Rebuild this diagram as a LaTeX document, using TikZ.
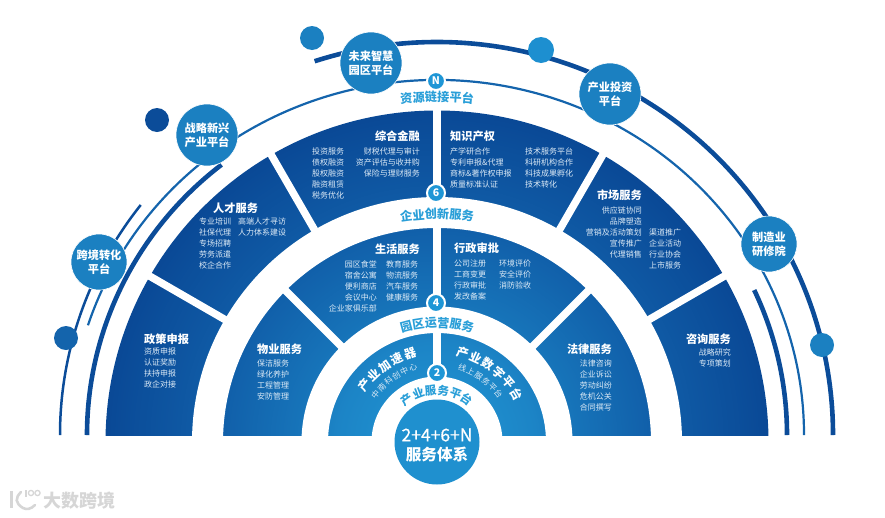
\documentclass[tikz,border=0pt]{standalone}
\usepackage{fontspec}
\setmainfont{Noto Sans CJK SC}
\definecolor{darkarc}{HTML}{0B4C99}
\definecolor{midarc}{HTML}{1464AC}
\definecolor{bub}{HTML}{1B80C1}
\definecolor{cyanlab}{HTML}{2A9FD8}
\definecolor{pale}{HTML}{DCEAF6}
\definecolor{badge}{HTML}{1E96D6}
\definecolor{wm}{HTML}{D6D6D6}
\definecolor{c0}{HTML}{1F90CF}
\definecolor{c1}{HTML}{1C84C6}
\definecolor{c2}{HTML}{1775BA}
\definecolor{c3}{HTML}{1160AA}
\definecolor{c4}{HTML}{0A4996}
\tikzset{
 x=1pt,y=-1pt,
 platform/.style={circle,fill=bub,draw=white,line width=.6pt,minimum size=#1,inner sep=0,align=center,text=white,font=\fontsize{11.2}{14}\selectfont\bfseries},
 dot/.style={circle,fill=#1,minimum size=24,inner sep=0},
 svctitle/.style={inner sep=0,text=white,font=\fontsize{11.2}{13}\selectfont\bfseries},
 detail/.style={inner sep=0,text=pale,font=\fontsize{8}{11}\selectfont},
 detl/.style={detail,align=left,anchor=north west},
 detr/.style={detail,align=right,anchor=north east},
 badgenode/.style={circle,fill=badge,draw=white,line width=2pt,minimum size=18,inner sep=0,text=white,font=\fontsize{10.5}{12}\selectfont\bfseries},
 cyantxt/.style={inner sep=0,text=cyanlab,font=\fontsize{#1}{12}\selectfont\bfseries},
 bandtitle/.style={inner sep=0,text=white,font=\fontsize{12}{12}\selectfont\bfseries},
 bandsub/.style={inner sep=0,text=pale,font=\fontsize{8}{8}\selectfont},
 gap/.style={white,line width=7.5pt},
 thickarc/.style={darkarc,line width=4.6pt},
 thinarc/.style={midarc,line width=2.2pt},
}
\newcommand{\arctext}[6]{\foreach \ch [count=\i from 0] in {#6} {%
  \pgfmathsetmacro\ang{#3+\i*#4}%
  \node[#5,rotate=-\ang] (#1-\i) at ({437+#2*sin(\ang)},{442-#2*cos(\ang)}) {\ch};}}
\newcommand{\spoke}[3]{\draw[gap] ({437+#2*cos(#1)},{442-#2*sin(#1)}) -- ({437+#3*cos(#1)},{442-#3*sin(#1)});}
\newcommand{\earc}[5]{\draw[#1] (437,435) ++(#4:#2 and #3) arc[start angle=#4,end angle=#5,x radius=#2,y radius=#3];}
\begin{document}
\begin{tikzpicture}
\useasboundingbox (0,0) rectangle (885,517);
% shaded half disc
\begin{scope}
 \clip (0,0) rectangle (885,435);
 \foreach \ra/\rb/\ca/\cb in {331.5/214/c4/c3,214/135/c3/c2,135/100/c2/c1,100/42/c1/c0}{
  \foreach \t in {0,2,...,98}{
   \pgfmathsetmacro\rr{\ra+(\rb-\ra)*\t/100}
   \fill[\cb!\t!\ca] (437,442) circle[radius=\rr];
  }
 }
\end{scope}
\fill[white,even odd rule] (437,442) circle[radius=245] (437,442) circle[radius=214];
\fill[white,even odd rule] (437,442) circle[radius=135.5] (437,442) circle[radius=109];
\fill[white] (437,442) circle[radius=65.5];
\foreach \a in {30,60,90,120,150} {\spoke{\a}{240}{336}}
\foreach \a in {45,90,135} {\spoke{\a}{130}{218}}
\spoke{90}{60}{113}
% centre
\fill[c0] (437,442) circle[radius=42.5];
\node[inner sep=0,text=white,font=\fontsize{17.5}{17}\selectfont\addfontfeature{FakeBold=0.6}] (core1) at (437,435) {2+4+6+N};
\node[inner sep=0,text=white,font=\fontsize{15.6}{16}\selectfont\bfseries] (core2) at (437,454) {服务体系};
% arcs
\earc{thickarc}{396}{393}{252}{360}
\earc{thinarc}{367}{355}{198}{360}
\earc{thinarc,line width=2.5pt,darkarc}{377}{372}{180}{218.2}
\earc{thickarc}{350}{343}{180}{232}
\earc{thickarc}{350}{343}{335}{360}
% decorative dots
\node[dot=bub] (d1) at (312,38) {};
\node[dot=darkarc] (d2) at (157,120) {};
\node[dot=midarc] (d3) at (66,338) {};
\node[dot=badge!70!bub,minimum size=26] (d4) at (541,50) {};
\node[dot=bub] (d5) at (822,345) {};
% platforms
\node[platform=62] (p1) at (371,63) {未来智慧\\园区平台};
\node[platform=62] (p2) at (207,135) {战略新兴\\产业平台};
\node[platform=56] (p3) at (99,262) {跨境转化\\平台};
\node[platform=62] (p4) at (610,94) {产业投资\\平台};
\node[platform=56] (p5) at (769,244) {制造业\\研修院};
% badges
\node[badgenode] (bn) at (436,81) {N};
\node[badgenode] (b6) at (436,193) {6};
\node[badgenode] (b4) at (436,303) {4};
\node[badgenode] (b2) at (437,373) {2};
% band labels
\arctext{la}{345}{-5.1}{2.05}{cyantxt=12.2}{资,源,链,接,平,台}
\arctext{lb}{228}{-7.75}{3.1}{cyantxt=12.2}{企,业,创,新,服,务}
\arctext{lc}{119}{-15}{6}{cyantxt=12}{园,区,运,营,服,务}
\arctext{ld}{52}{-35}{14}{cyantxt=11.5}{产,业,服,务,平,台}
\arctext{le}{92}{-52}{8.75}{bandtitle}{产,业,加,速,器}
\arctext{lf}{78}{-52}{6.8}{bandsub}{中,南,科,创,中,心}
\arctext{lg}{93}{16}{8.6}{bandtitle}{产,业,数,字,平,台}
\arctext{lh}{78}{19}{6.6}{bandsub}{线,上,服,务,平,台}
% outer ring
\node[svctitle,anchor=east] (t1) at (420,136) {综合金融};
\node[detl] (t1a) at (312,147.5) {投资服务\\债权融资\\股权融资\\融资租赁\\税务优化};
\node[detr] (t1b) at (420,147.5) {财税代理与审计\\资产评估与收并购\\保险与理财服务};
\node[svctitle,anchor=west] (t2) at (450,136) {知识产权};
\node[detl] (t2a) at (450,147.5) {产学研合作\\专利申报\&代理\\商标\&著作权申报\\质量标准认证};
\node[detl] (t2b) at (525,147.5) {技术服务平台\\科研机构合作\\科技成果孵化\\技术转化};
\node[svctitle,anchor=west] (t3) at (213,208) {人才服务};
\node[detl] (t3a) at (199,217.5) {专业培训\\社保代理\\专场招聘\\劳务派遣\\校企合作};
\node[detl] (t3b) at (238,217.5) {高端人才寻访\\人力体系建设};
\node[svctitle,anchor=east] (t4) at (642,195) {市场服务};
\node[detr] (t4a) at (642,206.5) {供应链协同\\品牌塑造\\营销及活动策划\\宣传推广\\代理销售};
\node[detl] (t4b) at (649,228.5) {渠道推广\\企业活动\\行业协会\\上市服务};
\node[svctitle,anchor=west] (t5) at (144,339) {政策申报};
\node[detl] (t5a) at (144,347.5) {资质申报\\认证奖励\\扶持申报\\政企对接};
\node[svctitle,anchor=east] (t6) at (731,339) {咨询服务};
\node[detr] (t6a) at (731,348.5) {战略研究\\专项策划};
% middle ring
\node[svctitle,anchor=east] (m1) at (420,249) {生活服务};
\node[detr] (m1a) at (377,260.5) {园区食堂\\宿舍公寓\\便利商店\\会议中心\\企业家俱乐部};
\node[detl] (m1b) at (386,260.5) {教育服务\\物流服务\\汽车服务\\健康服务};
\node[svctitle,anchor=west] (m2) at (454,248) {行政审批};
\node[detl] (m2a) at (454,259.5) {公司注册\\工商变更\\行政审批\\发改备案};
\node[detl] (m2b) at (499,259.5) {环境评价\\安全评价\\消防验收};
\node[svctitle,anchor=west] (m3) at (257,349) {物业服务};
\node[detl] (m3a) at (257,359.5) {保洁服务\\绿化养护\\工程管理\\安防管理};
\node[svctitle,anchor=east] (m4) at (612,349) {法律服务};
\node[detr] (m4a) at (612,359.5) {法律咨询\\企业诉讼\\劳动纠纷\\危机公关\\合同撰写};
% watermark
\node[inner sep=0,text=wm,anchor=west,font=\fontsize{18}{18}\selectfont\bfseries] (wm1) at (43,501) {大数跨境};
\draw[wm,line width=3pt] (11,491) -- (11,508);
\draw[wm,line width=2.6pt,line cap=round] (21,492) .. controls (15,498) and (15,503) .. (23,508) .. controls (27,510) and (31,509) .. (35,505);
\draw[wm,line width=1.3pt] (26,490) -- (26,497);
\draw[wm,line width=1.3pt] (31,493) circle[radius=2.6];
\draw[wm,line width=1.3pt] (37.5,493) circle[radius=2.6];
\end{tikzpicture}
\end{document}
